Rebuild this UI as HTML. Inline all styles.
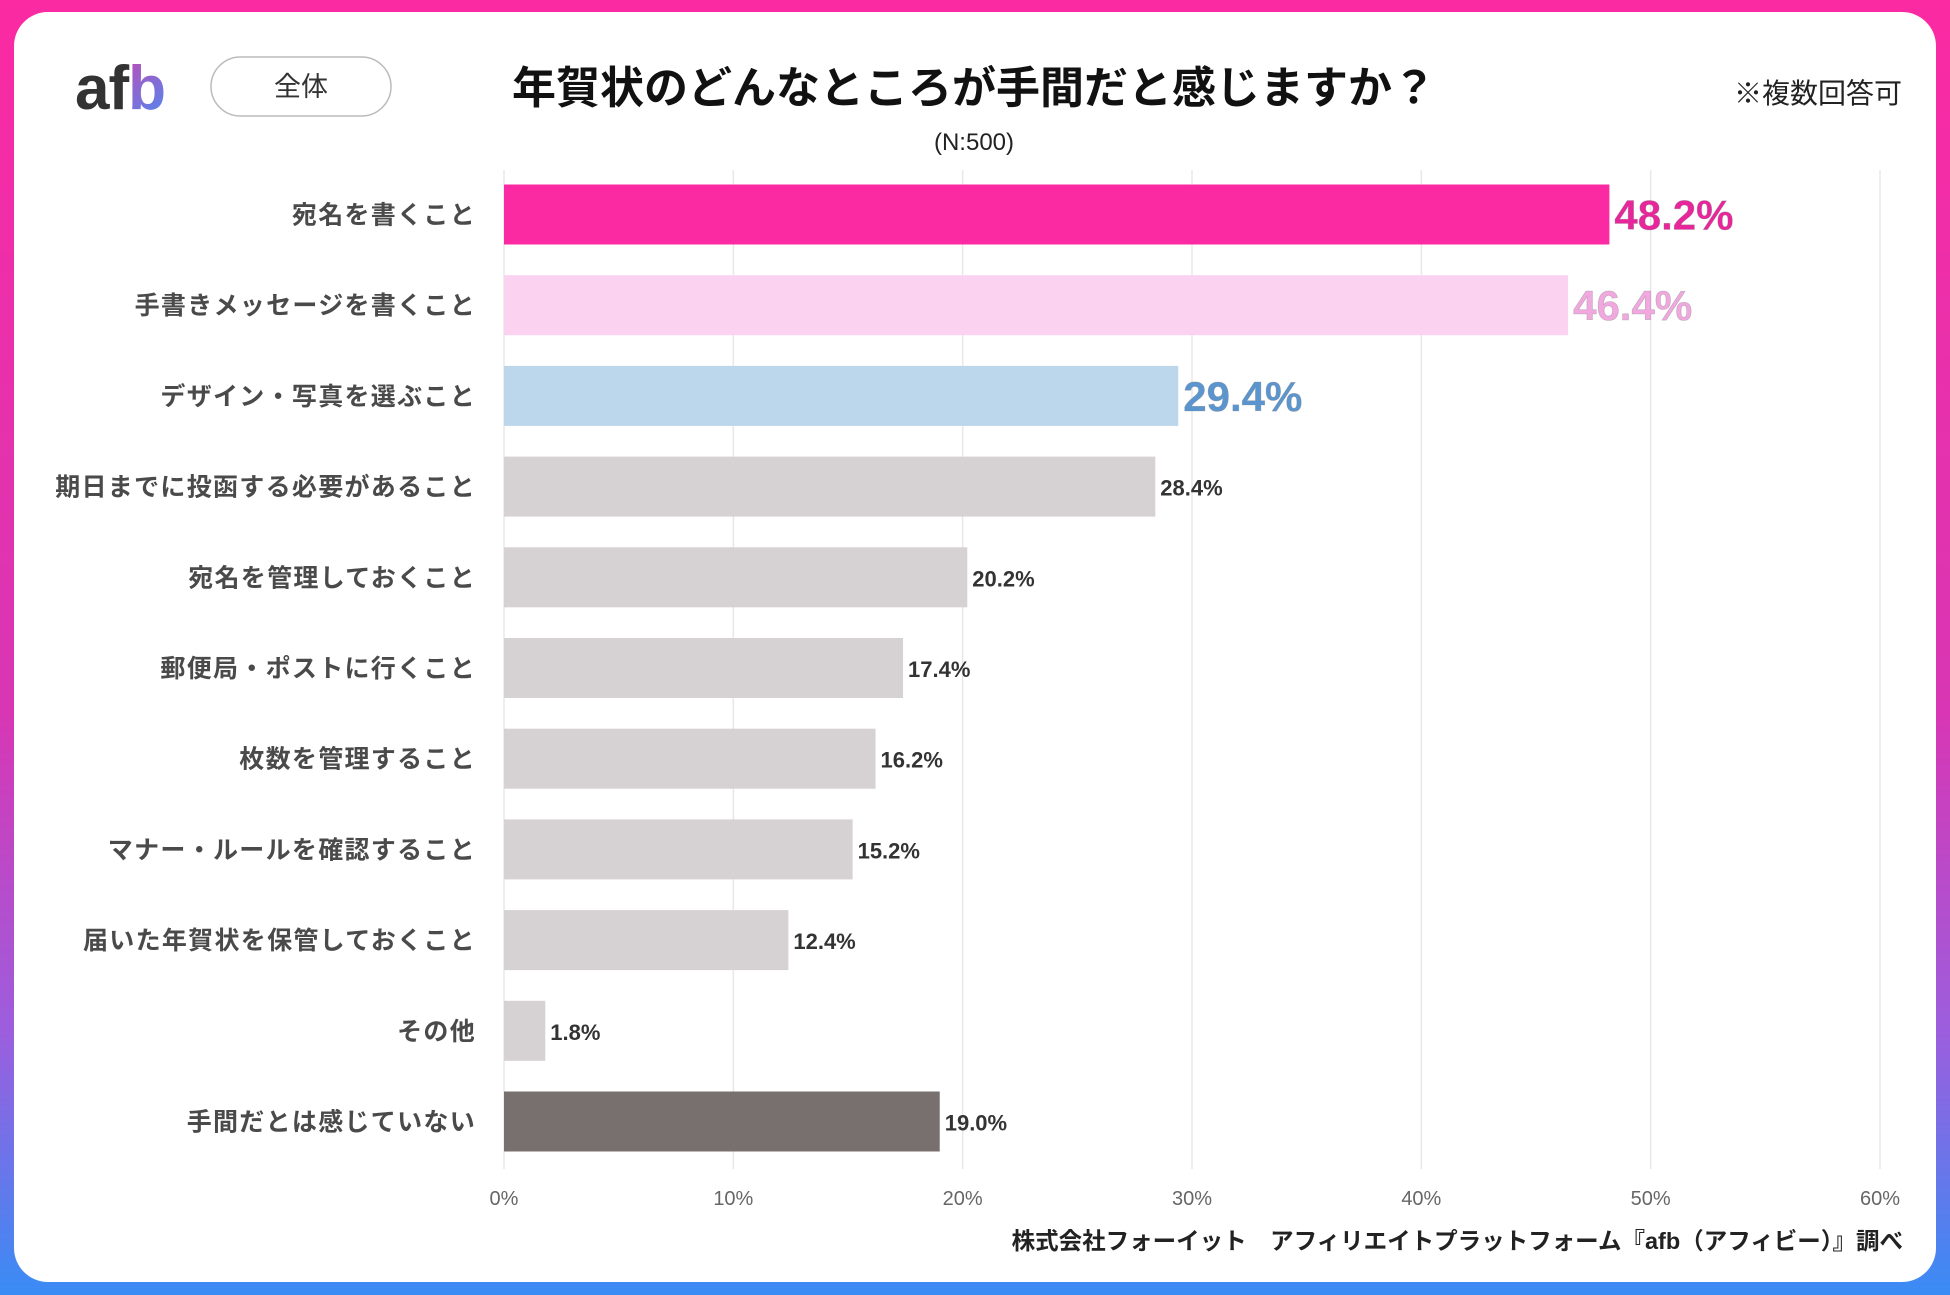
<!DOCTYPE html>
<html><head><meta charset="utf-8">
<style>
html,body{margin:0;padding:0;width:1950px;height:1295px;overflow:hidden;background:#fff}
body{font-family:"Liberation Sans","Noto Sans CJK JP",sans-serif}
</style></head>
<body>
<svg id="chart" width="1950" height="1295" viewBox="0 0 1950 1295" xmlns="http://www.w3.org/2000/svg" style="font-family:'Liberation Sans','Noto Sans CJK JP',sans-serif">
<defs>
<linearGradient id="frame" x1="0" y1="0" x2="0" y2="1">
<stop offset="0" stop-color="#fb2aa2"/><stop offset="0.55" stop-color="#d836b4"/><stop offset="0.8" stop-color="#9b5fde"/><stop offset="1" stop-color="#3a8cf5"/>
</linearGradient>
<linearGradient id="logob" x1="0" y1="0" x2="1" y2="1">
<stop offset="0" stop-color="#f0309e"/><stop offset="1" stop-color="#4a8cf2"/>
</linearGradient>
</defs>
<rect x="0" y="0" width="1950" height="1295" fill="url(#frame)"/>
<rect x="14" y="12" width="1922" height="1270" rx="34" fill="#fff"/>
<text x="75" y="109" font-size="62" font-weight="bold" fill="#333" letter-spacing="-1">af<tspan fill="url(#logob)">b</tspan></text>
<rect x="211" y="57" width="180" height="59" rx="29.5" fill="#fff" stroke="#bbb" stroke-width="1.5"/>
<text x="301" y="96" font-size="27" text-anchor="middle" fill="#333">全体</text>
<text x="974" y="103" font-size="44" font-weight="bold" text-anchor="middle" fill="#111">年賀状のどんなところが手間だと感じますか？</text>
<text x="1902" y="103" font-size="28" text-anchor="end" fill="#222">※複数回答可</text>
<text x="974" y="150" font-size="24" text-anchor="middle" fill="#222">(N:500)</text>
<g id="grid"></g><g id="bars"></g><g id="labels"></g><g id="ticks"></g>
<text x="1903" y="1249" font-size="23.5" font-weight="bold" text-anchor="end" fill="#222">株式会社フォーイット　アフィリエイトプラットフォーム『afb（アフィビー）』調べ</text>
</svg>
<script>
const categories=["宛名を書くこと","手書きメッセージを書くこと","デザイン・写真を選ぶこと","期日までに投函する必要があること","宛名を管理しておくこと","郵便局・ポストに行くこと","枚数を管理すること","マナー・ルールを確認すること","届いた年賀状を保管しておくこと","その他","手間だとは感じていない"];
const values=[48.2,46.4,29.4,28.4,20.2,17.4,16.2,15.2,12.4,1.8,19.0];
const tickValues=[0,10,20,30,40,50,60];
const tickLabels=["0%","10%","20%","30%","40%","50%","60%"];
const NS="http://www.w3.org/2000/svg";
const x0=504,x1=1880,xmax=60,yTop=170,yBot=1169,yFirst=214.5,pitch=90.7,barH=60;
const xs=v=>x0+(x1-x0)*v/xmax;
const ys=i=>yFirst+i*pitch;
function mk(tag,attrs,parent){const e=document.createElementNS(NS,tag);for(const k in attrs)e.setAttribute(k,attrs[k]);document.getElementById(parent).appendChild(e);return e;}
tickValues.forEach((t,i)=>{
 const l=mk('line',{x1:xs(t),x2:xs(t),y1:yTop,y2:yBot,stroke:'#e8e8e8','stroke-width':1.5},'grid');
 
 
 const tx=mk('text',{x:xs(t),y:1205,'font-size':20,'text-anchor':'middle',fill:'#666'},'ticks');
 tx.textContent=tickLabels[i];
 
 
});
categories.forEach((c,i)=>{
 const v=values[i];
 let fill='#d6d1d2',lc='#333',fs=22;
 if(i===0){fill='#fb2aa2';lc='#e8259a';fs=42;}
 else if(i===1){fill='#fbd3f1';lc='#f0a8de';fs=42;}
 else if(i===2){fill='#bcd6ec';lc='#5b95cf';fs=42;}
 else if(i===categories.length-1){fill='#78706e';}
 const cy=ys(i);
 const r=mk('rect',{x:x0,y:cy-barH/2,width:xs(v)-x0,height:barH,fill:fill},'bars');
 
 
 const lab=mk('text',{x:476,y:cy+9,'font-size':25,'font-weight':'bold','letter-spacing':'1.3',fill:'#4a4a4a','text-anchor':'end'},'labels');
 lab.textContent=c;
 
 
 const vl=mk('text',{x:xs(v)+5,y:cy+(fs>30?15:9),'font-size':fs,'font-weight':'bold',fill:lc},'labels');
 if(fs>30){vl.setAttribute('stroke','#888');vl.setAttribute('stroke-width','0.6');vl.setAttribute('stroke-opacity','0.5');}
 vl.textContent=v.toFixed(1)+'%';
 
 
});
</script>
</body></html>
